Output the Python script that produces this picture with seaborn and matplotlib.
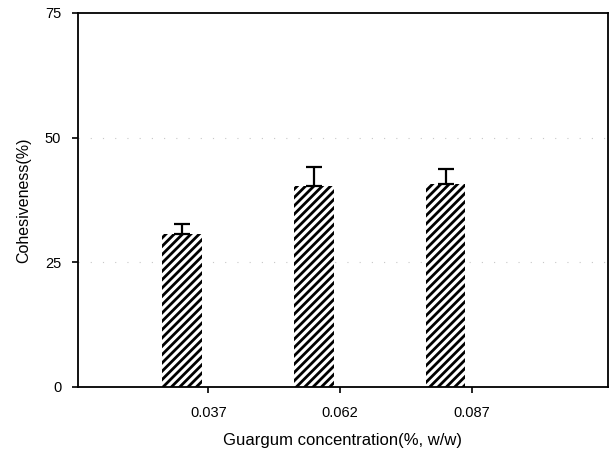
import matplotlib
matplotlib.use("Agg")
import matplotlib.pyplot as plt
import seaborn as sns
import pandas as pd
import numpy as np

# Data
concentrations = ["0.037", "0.062", "0.087"]
cohesiveness = [30.6, 40.4, 40.8]
errors = [2.0, 3.8, 3.0]
y_ticks = [0, 25, 50, 75]

sns.set_theme(style="white")
plt.rcParams['font.family'] = ['Liberation Sans', 'DejaVu Sans']
plt.rcParams['hatch.linewidth'] = 2.0
plt.rcParams['hatch.color'] = 'black'

df = pd.DataFrame({"conc": concentrations, "val": cohesiveness, "grp": ["Cohesiveness"] * 3})

fig = plt.figure(figsize=(6.09, 4.57), dpi=100)
ax = fig.add_axes([0.128, 0.1532, 0.870, 0.8184])

sns.barplot(data=df, x="conc", y="val", hue="grp", hue_order=["Cohesiveness", "other"],
            order=concentrations, width=0.8, gap=0.25, dodge=True,
            color="white", edgecolor="black", linewidth=0, errorbar=None,
            legend=False, ax=ax)

patches = [p for p in ax.patches if p.get_height() > 0]
patches.sort(key=lambda p: p.get_x())
xs = [p.get_x() + p.get_width() / 2 for p in patches]
for p in patches:
    p.set_hatch("////")
    p.set_facecolor("white")
    p.set_edgecolor("black")
    p.set_linewidth(0)

ax.errorbar(xs, cohesiveness, yerr=[np.zeros(len(errors)), errors], fmt="none",
            ecolor="black", elinewidth=1.6, capsize=6, capthick=1.6, zorder=5)

ax.set_xlim(-0.99, 3.03)
ax.set_ylim(0, 75)
ax.set_yticks(y_ticks)
ax.set_yticklabels([str(t) for t in y_ticks])

ax.set_xlabel("Guargum concentration(%, w/w)", fontsize=12, labelpad=9, color="black")
ax.set_ylabel("Cohesiveness(%)", fontsize=11.5, labelpad=10, color="black")

ax.tick_params(axis="both", which="major", direction="out", length=4, width=1.2,
               colors="black", labelsize=10.5, bottom=True, left=True)
ax.tick_params(axis="x", pad=10)
ax.tick_params(axis="y", pad=8)

for s in ax.spines.values():
    s.set_color("black")
    s.set_linewidth(1.3)
    s.set_visible(True)

for yv in [25, 50]:
    ax.axhline(yv, color="#c8c8c8", linestyle=(0, (1, 10)), linewidth=0.8, zorder=0)

fig.savefig("out.png", dpi=100)
